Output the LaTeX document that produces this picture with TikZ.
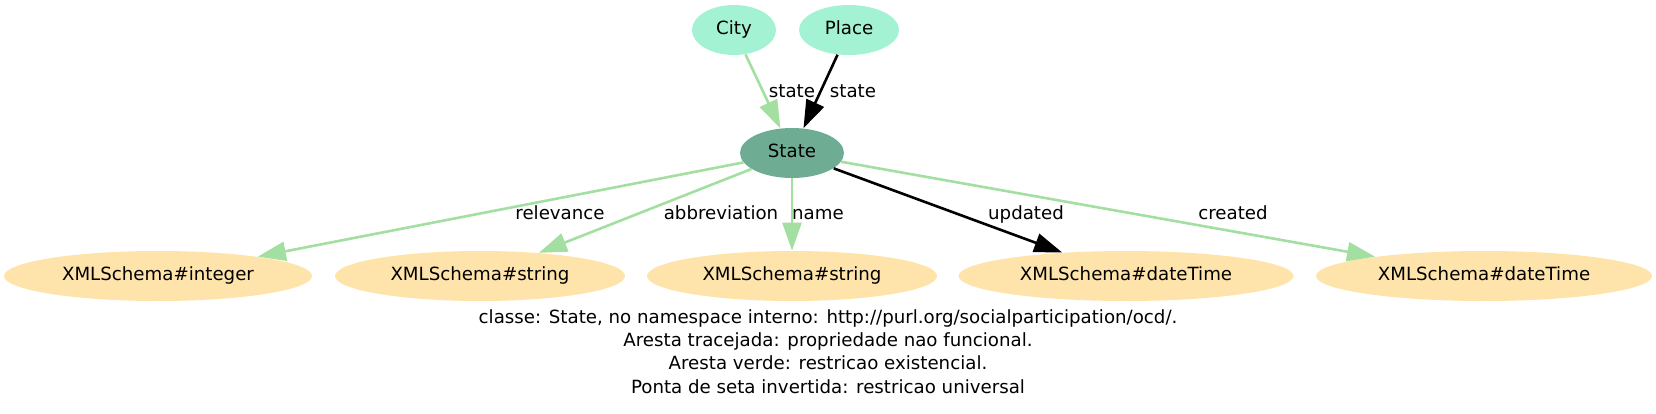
\documentclass[tikz,border=0pt]{standalone}
\usepackage{fontspec}
\setmainfont{DejaVu Sans}
\usetikzlibrary{shapes.geometric,arrows.meta}
\definecolor{topfill}{HTML}{A3F2D3}
\definecolor{statefill}{HTML}{6EAC94}
\definecolor{litfill}{HTML}{FEE4AA}
\definecolor{edgegreen}{HTML}{A3DFA0}
\begin{document}
\begin{tikzpicture}[x=0.5pt,y=-0.5pt,
  every node/.style={font=\fontsize{9.1}{11.5}\selectfont, inner sep=0pt},
  nd/.style={ellipse, text height=7pt, text depth=2.1pt, minimum height=25pt},
  clsnode/.style={nd, fill=topfill},
  mainnode/.style={nd, fill=statefill},
  litnode/.style={nd, fill=litfill},
  elabel/.style={anchor=base},
  gedge/.style={draw=edgegreen, line width=1.3pt, -{Triangle[length=14pt,width=9.5pt]}, edgegreen},
  bedge/.style={draw=black, line width=1.3pt, -{Triangle[length=14pt,width=9.5pt]}}
]
\useasboundingbox (0,0) rectangle (1656,413);

\node[clsnode, minimum width=42pt] (city) at (734,30) {City};
\node[clsnode, minimum width=50pt] (place) at (849,30) {Place};
\node[mainnode, minimum width=52pt] (state) at (792,153) {State};

\node[litnode, minimum width=154pt] (int) at (158,276) {XMLSchema\#integer};
\node[litnode, minimum width=145pt] (str1) at (480,276) {XMLSchema\#string};
\node[litnode, minimum width=145pt] (str2) at (792,276) {XMLSchema\#string};
\node[litnode, minimum width=167.5pt] (dt1) at (1126,276) {XMLSchema\#dateTime};
\node[litnode, minimum width=168pt] (dt2) at (1484,276) {XMLSchema\#dateTime};

\draw[gedge] (city) -- (state);
\draw[bedge] (place) -- (state);
\draw[gedge] (state) -- (int);
\draw[gedge] (state) -- (str1);
\draw[gedge] (state) -- (str2);
\draw[bedge] (state) -- (dt1);
\draw[gedge] (state) -- (dt2);

\node[elabel] (l1) at (792,97) {state};
\node[elabel] (l2) at (853,97) {state};
\node[elabel] (l3) at (560,219) {relevance};
\node[elabel] (l4) at (721,219) {abbreviation};
\node[elabel] (l5) at (818,219) {name};
\node[elabel] (l6) at (1026,219) {updated};
\node[elabel] (l7) at (1233,219) {created};

\node[elabel] (c1) at (828,323) {classe: State, no namespace interno: http://purl.org/socialparticipation/ocd/.};
\node[elabel] (c2) at (828,346) {Aresta tracejada: propriedade nao funcional.};
\node[elabel] (c3) at (828,369) {Aresta verde: restricao existencial.};
\node[elabel] (c4) at (828,393) {Ponta de seta invertida: restricao universal};
\end{tikzpicture}
\end{document}
